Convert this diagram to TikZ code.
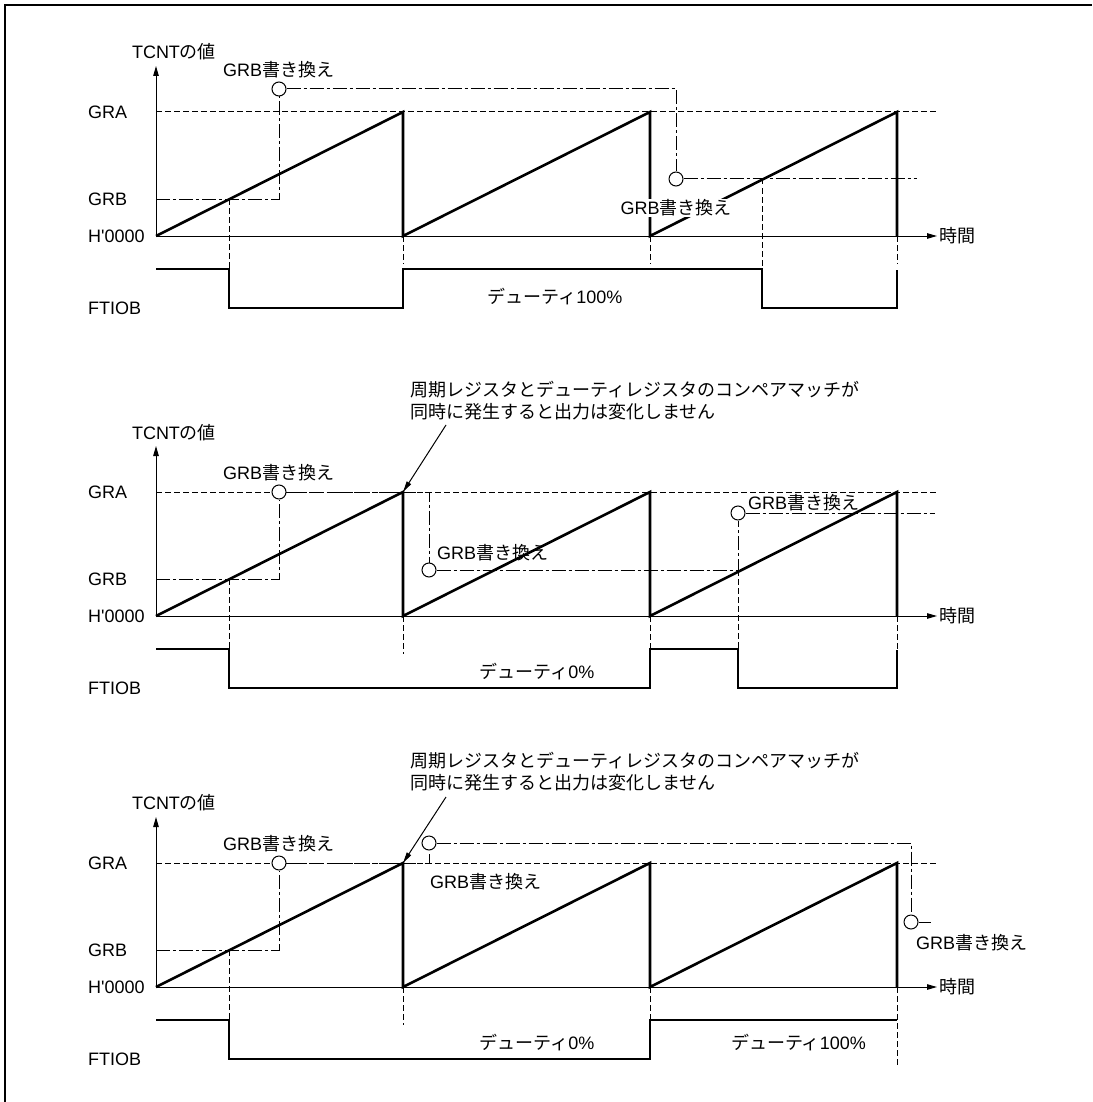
\documentclass[tikz,border=0pt]{standalone}
\usepackage{fontspec}
\setmainfont{Liberation Sans}
\newfontfamily\jp{Noto Sans CJK JP}
\usetikzlibrary{arrows.meta}
\begin{document}
\begin{tikzpicture}[x=1pt,y=-1pt,
  thinline/.style={line width=1pt},
  wave/.style={line width=2.6pt, line join=miter},
  gridline/.style={line width=1pt, dash pattern=on 5.5pt off 3.5pt},
  dd/.style={line width=1pt, dash pattern=on 14pt off 3pt on 3pt off 3pt},
  circ/.style={circle, draw, line width=1pt, fill=white, minimum size=14pt, inner sep=0pt},
  lbl/.style={inner sep=0pt, font=\fontsize{18}{22}\selectfont},
  axarrow/.style={line width=1pt, -{Triangle[length=10pt,width=5.5pt]}},
  notearrow/.style={line width=1pt, -{Triangle[length=11pt,width=5pt]}},
]
\useasboundingbox (0,0) rectangle (1092,1102);
\draw[line width=1.7pt] (5,1102) -- (5,5) -- (1092,5);

% ================= TOP PANEL =================
\begin{scope}[shift={(0,236)}]
  \coordinate (a-o) at (156,0);
  \coordinate (a-ytop) at (156,-170);
  \coordinate (a-xend) at (937,0);
  \draw[gridline] (156,-124) -- (937,-124);
  \draw[axarrow] (a-o) -- (a-ytop);
  \draw[axarrow] (a-o) -- (a-xend);
  \node[lbl, anchor=west] (a-time) at (939,0) {\jp 時間};
  \node[lbl] (a-tcnt) at (174,-184) {TCNT{\jp の値}};
  \node[lbl, anchor=west] (a-gra) at (88,-124) {GRA};
  \node[lbl, anchor=west] (a-grb) at (88,-37) {GRB};
  \node[lbl, anchor=west] (a-h) at (88,0) {H\textquotesingle 0000};
  \node[lbl, anchor=west] (a-ft) at (88,72) {FTIOB};
  % ramps
  \draw[wave] (156,0) -- (403,-124) -- (403,0) -- (650,-124) -- (650,0) -- (897,-124) -- (897,0);
  % GRB rewrite
  \node[circ] (a-c1) at (279,-147) {};
  \node[circ] (a-c2) at (676,-57) {};
  \coordinate (a-k1) at (279,-37);
  \coordinate (a-k2) at (676,-147);
  \coordinate (a-k3) at (917,-57);
  \draw[dd] (156,-37) -- (a-k1) -- (a-c1.south);
  \draw[dd] (a-c1.east) -- (a-k2) -- (a-c2.north);
  \draw[dd] (a-c2.east) -- (a-k3);
  \node[lbl] (a-g1) at (278.5,-166) {GRB{\jp 書き換え}};
  \node[lbl, fill=white, inner sep=1pt] (a-g2) at (676,-28) {GRB{\jp 書き換え}};
  % dashed verticals
  \draw[gridline] (229,-37) -- (229,33);
  \draw[gridline] (762,-57) -- (762,33);
  \draw[gridline] (403,0) -- (403,28);
  \draw[gridline] (650,0) -- (650,28);
  \draw[gridline] (897,0) -- (897,28);
  % FTIOB
  \draw[wave] (156,33) -- (229,33) -- (229,72) -- (403,72) -- (403,33) -- (762,33) -- (762,72) -- (897,72) -- (897,34);
  \node[lbl] (a-duty) at (555,61) {{\jp デューティ}100\%};
\end{scope}

% ================= MIDDLE PANEL =================
\begin{scope}[shift={(0,616)}]
  \coordinate (b-o) at (156,0);
  \coordinate (b-ytop) at (156,-170);
  \coordinate (b-xend) at (937,0);
  \draw[gridline] (156,-124) -- (937,-124);
  \draw[axarrow] (b-o) -- (b-ytop);
  \draw[axarrow] (b-o) -- (b-xend);
  \node[lbl, anchor=west] (b-time) at (939,0) {\jp 時間};
  \node[lbl] (b-tcnt) at (174,-183) {TCNT{\jp の値}};
  \node[lbl, anchor=west] (b-gra) at (88,-124) {GRA};
  \node[lbl, anchor=west] (b-grb) at (88,-37) {GRB};
  \node[lbl, anchor=west] (b-h) at (88,0) {H\textquotesingle 0000};
  \node[lbl, anchor=west] (b-ft) at (88,72) {FTIOB};
  \node[lbl, anchor=west, align=left] (b-note) at (410,-215) {\jp 周期レジスタとデューティレジスタのコンペアマッチが\\\jp 同時に発生すると出力は変化しません};
  \coordinate (b-ns) at (446,-191);
  \coordinate (b-peak) at (403,-124);
  \draw[notearrow] (b-ns) -- (b-peak);
  % ramps
  \draw[wave] (156,0) -- (403,-124) -- (403,0) -- (650,-124) -- (650,0) -- (897,-124) -- (897,0);
  % GRB rewrite
  \node[circ] (b-c1) at (279,-124) {};
  \node[circ] (b-c2) at (429,-46) {};
  \node[circ] (b-c3) at (738,-103) {};
  \coordinate (b-k1) at (279,-37);
  \coordinate (b-k2) at (429,-124);
  \coordinate (b-k3) at (738,-46);
  \coordinate (b-k4) at (935,-103);
  \draw[dd] (156,-37) -- (b-k1) -- (b-c1.south);
  \draw[dd] (b-c1.east) -- (b-k2) -- (b-c2.north);
  \draw[dd] (b-c2.east) -- (b-k3) -- (b-c3.south);
  \draw[dd] (b-c3.east) -- (b-k4);
  \node[lbl] (b-g1) at (278.5,-143) {GRB{\jp 書き換え}};
  \node[lbl, anchor=west] (b-g2) at (437,-63) {GRB{\jp 書き換え}};
  \node[lbl, anchor=west] (b-g3) at (748,-113) {GRB{\jp 書き換え}};
  % dashed verticals
  \draw[gridline] (229,-37) -- (229,33);
  \draw[gridline] (738,-46) -- (738,33);
  \draw[gridline] (403,0) -- (403,38);
  \draw[gridline] (650,0) -- (650,33);
  \draw[gridline] (897,0) -- (897,33);
  % FTIOB
  \draw[wave] (156,33) -- (229,33) -- (229,72) -- (650,72) -- (650,33) -- (738,33) -- (738,72) -- (897,72) -- (897,34);
  \node[lbl] (b-duty) at (537,56) {{\jp デューティ}0\%};
\end{scope}

% ================= BOTTOM PANEL =================
\begin{scope}[shift={(0,987)}]
  \coordinate (c-o) at (156,0);
  \coordinate (c-ytop) at (156,-170);
  \coordinate (c-xend) at (937,0);
  \draw[gridline] (156,-124) -- (937,-124);
  \draw[axarrow] (c-o) -- (c-ytop);
  \draw[axarrow] (c-o) -- (c-xend);
  \node[lbl, anchor=west] (c-time) at (939,0) {\jp 時間};
  \node[lbl] (c-tcnt) at (174,-184) {TCNT{\jp の値}};
  \node[lbl, anchor=west] (c-gra) at (88,-124) {GRA};
  \node[lbl, anchor=west] (c-grb) at (88,-37) {GRB};
  \node[lbl, anchor=west] (c-h) at (88,0) {H\textquotesingle 0000};
  \node[lbl, anchor=west] (c-ft) at (88,72) {FTIOB};
  \node[lbl, anchor=west, align=left] (c-note) at (410,-215) {\jp 周期レジスタとデューティレジスタのコンペアマッチが\\\jp 同時に発生すると出力は変化しません};
  \coordinate (c-ns) at (446,-190);
  \coordinate (c-peak) at (403,-124);
  \draw[notearrow] (c-ns) -- (c-peak);
  % ramps
  \draw[wave] (156,0) -- (403,-124) -- (403,0) -- (650,-124) -- (650,0) -- (897,-124) -- (897,0);
  % GRB rewrite
  \node[circ] (c-c1) at (279,-124) {};
  \node[circ] (c-c2) at (429,-144) {};
  \node[circ] (c-c3) at (911,-65) {};
  \coordinate (c-k1) at (279,-37);
  \coordinate (c-k2) at (429,-124);
  \coordinate (c-k3) at (911,-144);
  \coordinate (c-k4) at (931,-65);
  \draw[dd] (156,-37) -- (c-k1) -- (c-c1.south);
  \draw[dd] (c-c1.east) -- (c-k2) -- (c-c2.south);
  \draw[dd] (c-c2.east) -- (c-k3) -- (c-c3.north);
  \draw[thinline] (c-c3.east) -- (c-k4);
  \node[lbl] (c-g1) at (278.5,-143) {GRB{\jp 書き換え}};
  \node[lbl] (c-g2) at (485.5,-105) {GRB{\jp 書き換え}};
  \node[lbl, anchor=west] (c-g3) at (916,-44) {GRB{\jp 書き換え}};
  % dashed verticals
  \draw[gridline] (229,-37) -- (229,33);
  \draw[gridline] (403,0) -- (403,38);
  \draw[gridline] (650,0) -- (650,33);
  \draw[gridline] (897,0) -- (897,78);
  % FTIOB
  \draw[wave] (156,33) -- (229,33) -- (229,72) -- (650,72) -- (650,33) -- (897,33);
  \node[lbl] (c-duty0) at (537,56) {{\jp デューティ}0\%};
  \node[lbl] (c-duty100) at (798.5,56) {{\jp デューティ}100\%};
\end{scope}
\end{tikzpicture}
\end{document}
